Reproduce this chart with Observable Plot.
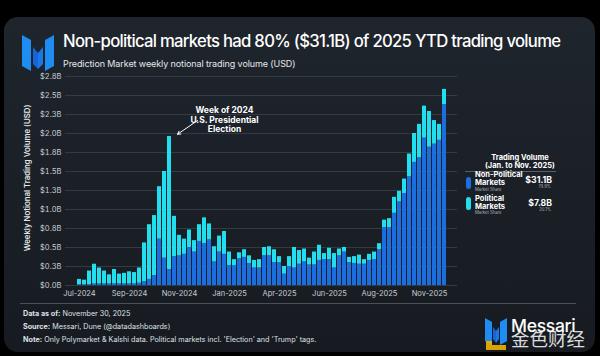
<!DOCTYPE html>
<html><head><meta charset="utf-8">
<script src="https://cdn.jsdelivr.net/npm/d3@7"></script>
<script src="https://cdn.jsdelivr.net/npm/@observablehq/plot@0.6"></script>
<style>
body{margin:0;width:600px;height:356px;background:#000;overflow:hidden;position:relative;font-family:Inter,"Noto Sans",sans-serif;color:#fff;}
.abs{position:absolute;white-space:nowrap;line-height:1;}
#card{position:absolute;left:4px;top:17px;width:591px;height:335px;border-radius:14px;background:linear-gradient(180deg,#1f252d 0%,#1a1f26 60%,#171b21 100%);}
.mid{transform:translateY(-50%);}
.r{transform:translate(-100%,-50%);text-align:right;}
.c{transform:translate(-50%,-50%);text-align:center;}
.lg{font-size:7.5px;font-weight:700;letter-spacing:0px;}
.tiny{font-size:4.2px;color:#aab0b6;}
</style></head><body>
<div id="card"></div>
<svg class="abs" style="left:20px;top:33px" width="36" height="40" viewBox="0 0 36 40">
  <polygon points="2,2 11,7 11,38 2,33" fill="#1e8cf0"/>
  <polygon points="13,14 18,20 18,36 13,31" fill="#1565d8"/>
  <polygon points="34,2 25,7 25,38 34,33" fill="#1e8cf0"/>
  <polygon points="23,14 18,20 18,36 23,31" fill="#1a78e6"/>
</svg>
<div class="abs" style="left:63px;top:33px;font-size:16.7px;font-weight:500;letter-spacing:-0.72px">Non-political markets had 80% ($31.1B) of 2025 YTD trading volume</div>
<div class="abs" style="left:63px;top:58.5px;font-size:9px;color:#e4e7ea;letter-spacing:-0.1px">Prediction Market weekly notional trading volume (USD)</div>
<div class="abs" style="left:28px;top:178px;font-size:7.8px;font-weight:600;color:#e4e7ea;transform:translate(-50%,-50%) rotate(-90deg)">Weekly Notional Trading Volume (USD)</div>
<div id="chart" style="position:absolute;left:0;top:0"></div>

<div class="abs c lg" style="left:520px;top:157.5px">Trading Volume</div>
<div class="abs c lg" style="left:520px;top:166px">(Jan. to Nov. 2025)</div>
<div class="abs" style="left:465px;top:171px;width:91px;height:1px;background:#5a6068"></div>
<div class="abs" style="left:466px;top:177px;width:5px;height:12px;border-radius:3px;background:#1a6ee0"></div>
<div class="abs mid lg" style="left:475px;top:174.5px">Non-Political</div>
<div class="abs mid lg" style="left:475px;top:183px">Markets</div>
<div class="abs mid tiny" style="left:475px;top:189.8px">Market Share</div>
<div class="abs r" style="left:552px;top:180px;font-size:8.7px;font-weight:700">$31.1B</div>
<div class="abs r tiny" style="left:551px;top:186.8px">79.9%</div>
<div class="abs" style="left:466px;top:197px;width:5px;height:13px;border-radius:3px;background:#22dff0"></div>
<div class="abs mid lg" style="left:475px;top:198.5px">Political</div>
<div class="abs mid lg" style="left:475px;top:207px">Markets</div>
<div class="abs mid tiny" style="left:475px;top:213px">Market Share</div>
<div class="abs r" style="left:552px;top:203px;font-size:8.7px;font-weight:700">$7.8B</div>
<div class="abs r tiny" style="left:551px;top:209.8px">20.1%</div>

<div class="abs" style="left:20px;top:303px;width:556px;height:1px;background:#4a5058"></div>
<div class="abs mid" style="left:23px;top:313.5px;font-size:7.2px;color:#dfe2e5"><b>Data as of:</b> November 30, 2025</div>
<div class="abs mid" style="left:23px;top:326.5px;font-size:7.2px;color:#dfe2e5"><b>Source:</b> Messari, Dune (@datadashboards)</div>
<div class="abs mid" style="left:23px;top:339.5px;font-size:7.2px;color:#dfe2e5"><b>Note:</b> Only Polymarket &amp; Kalshi data. Political markets incl. 'Election' and 'Trump' tags.</div>
<svg class="abs" style="left:484px;top:317px" width="24" height="34" viewBox="0 0 24 34">
  <polygon points="1,1 8,5 8,28 1,24" fill="#1e8cf0"/>
  <polygon points="23,1 16,5 16,28 23,24" fill="#1e8cf0"/>
  <polygon points="9,10 12,14 12,26 9,22" fill="#1565d8"/>
  <polygon points="15,10 12,14 12,26 15,22" fill="#1a78e6"/>
  <polygon points="2,24 8,24 8,33 2,33" fill="#f0b400" opacity="0.9"/>
  <polygon points="8,28 22,28 22,33 8,33" fill="#f0b400" opacity="0.9"/>
</svg>
<div class="abs" style="left:511px;top:317px;font-size:17.5px;font-weight:500;letter-spacing:-0.3px">Messari</div>
<div class="abs" style="left:511px;top:329px;font-size:18.5px;font-family:'Noto Sans CJK SC';color:rgba(255,255,255,0.85)">金色财经</div>

<script>
const weeks = [
"2024-07-01","2024-07-08","2024-07-15","2024-07-22","2024-07-29","2024-08-05","2024-08-12","2024-08-19","2024-08-26",
"2024-09-02","2024-09-09","2024-09-16","2024-09-23","2024-09-30","2024-10-07","2024-10-14","2024-10-21","2024-10-28",
"2024-11-04","2024-11-11","2024-11-18","2024-11-25","2024-12-02","2024-12-09","2024-12-16","2024-12-23","2024-12-30",
"2025-01-06","2025-01-13","2025-01-20","2025-01-27","2025-02-03","2025-02-10","2025-02-17","2025-02-24",
"2025-03-03","2025-03-10","2025-03-17","2025-03-24","2025-03-31","2025-04-07","2025-04-14","2025-04-21","2025-04-28",
"2025-05-05","2025-05-12","2025-05-19","2025-05-26","2025-06-02","2025-06-09","2025-06-16","2025-06-23","2025-06-30",
"2025-07-07","2025-07-14","2025-07-21","2025-07-28","2025-08-04","2025-08-11","2025-08-18","2025-08-25",
"2025-09-01","2025-09-08","2025-09-15","2025-09-22","2025-09-29","2025-10-06","2025-10-13","2025-10-20","2025-10-27",
"2025-11-03","2025-11-10","2025-11-17","2025-11-24"];
// $B, non-political (bottom) and political (top) volume per week
const nonPolitical = [
0.01,0.01,0.01,0.02,0.02,0.02,0.02,0.02,0.02,0.02,0.02,0.02,0.03,0.05,0.08,0.13,0.61,0.36,
0.21,0.38,0.39,0.41,0.50,0.44,0.58,0.55,0.60,0.31,0.44,0.41,0.26,0.26,0.35,0.37,0.29,0.23,
0.23,0.39,0.39,0.30,0.30,0.15,0.25,0.23,0.28,0.31,0.27,0.27,0.33,0.34,0.34,0.23,0.39,0.44,
0.30,0.29,0.28,0.28,0.33,0.34,0.47,0.76,0.76,0.95,1.10,1.21,1.43,1.62,1.68,1.94,1.82,1.86,1.91,2.38];
const political = [
0.07,0.06,0.18,0.26,0.21,0.17,0.12,0.19,0.13,0.14,0.16,0.15,0.20,0.51,0.72,0.79,0.69,1.14,
1.75,0.53,0.27,0.20,0.23,0.15,0.22,0.34,0.21,0.20,0.21,0.30,0.18,0.08,0.08,0.10,0.10,0.10,
0.11,0.11,0.12,0.17,0.08,0.10,0.13,0.27,0.18,0.17,0.09,0.17,0.20,0.08,0.15,0.19,0.09,0.06,
0.07,0.09,0.12,0.06,0.08,0.10,0.08,0.10,0.12,0.21,0.14,0.19,0.30,0.38,0.44,0.42,0.47,0.31,0.21,0.20];
const seriesNames = ["Non-Political","Political"];
const seriesColors = ["#1a6ee0","#22dff0"];
const yTicks = [0,0.25,0.5,0.75,1,1.25,1.5,1.75,2,2.25,2.5,2.75];
const yTickLabels = ["$0.0B","$0.3B","$0.5B","$0.8B","$1.0B","$1.3B","$1.5B","$1.8B","$2.0B","$2.3B","$2.5B","$2.8B"];
const xTickWeeks = ["2024-07-01","2024-09-09","2024-11-18","2025-01-27","2025-04-07","2025-06-16","2025-08-25","2025-11-03"];
const xTickLabels = ["Jul-2024","Sep-2024","Nov-2024","Jan-2025","Apr-2025","Jun-2025","Aug-2025","Nov-2025"];
const annotationText = ["Week of 2024\nU.S. Presidential\nElection"];
const annotationWeek = "2024-11-04";
const arrowFrom = {week:"2024-12-09", value:2.17};
const arrowTo = {week:"2024-11-11", value:1.99};

const data = weeks.flatMap((w,i)=>[
  {week:w, series:seriesNames[0], value:nonPolitical[i]},
  {week:w, series:seriesNames[1], value:political[i]}
]);
const peak = nonPolitical[weeks.indexOf(annotationWeek)] + political[weeks.indexOf(annotationWeek)];

const chart = Plot.plot({
  width:600, height:305, marginLeft:65, marginRight:143, marginTop:76, marginBottom:20,
  style:{background:"transparent", color:"#c9cdd2", fontFamily:"Inter, sans-serif", fontSize:"7.5px", overflow:"visible"},
  x:{type:"band", domain:weeks, padding:0.2, ticks:xTickWeeks, tickFormat:d=>xTickLabels[xTickWeeks.indexOf(d)], tickSize:0, tickPadding:5, label:null},
  y:{domain:[0,2.75], ticks:yTicks, tickFormat:d=>yTickLabels[yTicks.indexOf(d)], tickSize:0, tickPadding:4, label:null},
  color:{domain:seriesNames, range:seriesColors},
  marks:[
    Plot.ruleY(yTicks,{stroke:"#3a4149", strokeWidth:0.8}),
    Plot.barY(data,{x:"week", y:"value", fill:"series"}),
    Plot.arrow([{x1:arrowFrom.week,y1:arrowFrom.value,x2:arrowTo.week,y2:arrowTo.value}],
      {x1:"x1",y1:"y1",x2:"x2",y2:"y2",stroke:"#ffffff",strokeWidth:1,headLength:5,dx:3}),
    Plot.text(annotationText,{x:()=>annotationWeek, y:()=>peak, text:d=>d, dx:55, dy:-17,
      fill:"#ffffff", fontWeight:700, fontSize:8.5, lineHeight:1.15, lineAnchor:"middle", textAnchor:"middle"})
  ]
});
document.getElementById("chart").appendChild(chart);
</script>
</body></html>
